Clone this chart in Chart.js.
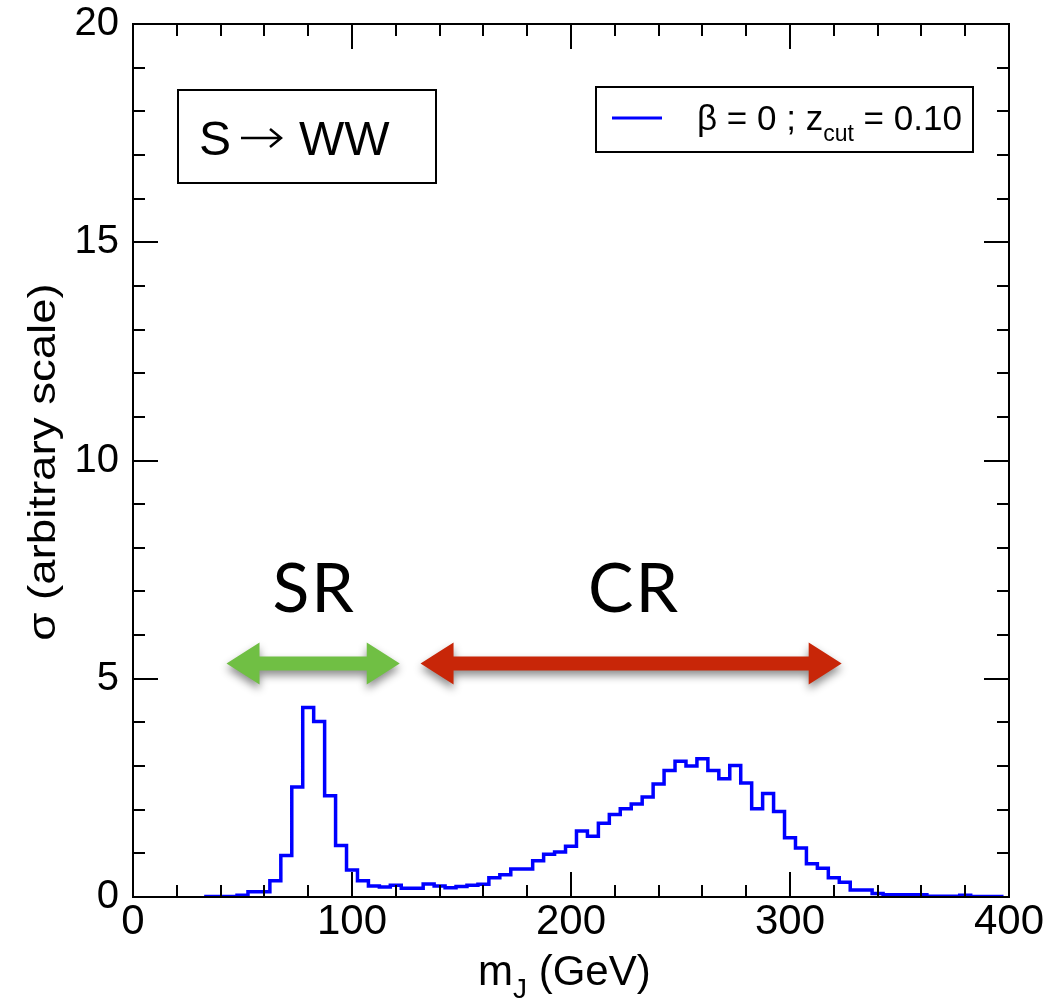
<!DOCTYPE html>
<html>
<head>
<meta charset="utf-8">
<title>S to WW - jet mass</title>
<script src="https://cdn.jsdelivr.net/npm/chart.js@4.4.1/dist/chart.umd.min.js"></script>
<style>
  html, body { margin: 0; padding: 0; background: #fff; }
  #wrap { width: 1047px; height: 1002px; }
</style>
</head>
<body>
<div id="wrap"><canvas id="mjChart" width="1047" height="1002"></canvas></div>
<script>
// histogram, 5 GeV bins (centres in GeV)
let binWidth = 5;
let binCenters = [35, 40, 45, 50, 55, 60, 65, 70, 75, 80,
  85, 90, 95, 100, 105, 110, 115, 120, 125, 130,
  135, 140, 145, 150, 155, 160, 165, 170, 175, 180,
  185, 190, 195, 200, 205, 210, 215, 220, 225, 230,
  235, 240, 245, 250, 255, 260, 265, 270, 275, 280,
  285, 290, 295, 300, 305, 310, 315, 320, 325, 330,
  335, 340, 345, 350, 355, 360, 365, 370, 375, 380,
  385, 390, 395, 400];
let sigmaValues = [0.01, 0.01, 0.01, 0.04, 0.12, 0.12, 0.37, 0.95, 2.52, 4.34,
  4.02, 2.32, 1.18, 0.62, 0.37, 0.25, 0.23, 0.27, 0.20, 0.20,
  0.30, 0.25, 0.21, 0.24, 0.27, 0.29, 0.44, 0.51, 0.64, 0.64,
  0.83, 0.98, 1.03, 1.16, 1.51, 1.39, 1.69, 1.89, 2.02, 2.13,
  2.29, 2.59, 2.90, 3.11, 3.00, 3.17, 2.90, 2.71, 3.01, 2.61,
  2.02, 2.37, 1.96, 1.36, 1.12, 0.76, 0.66, 0.44, 0.34, 0.16,
  0.16, 0.08, 0.05, 0.05, 0.05, 0.05, 0.02, 0.02, 0.02, 0.04,
  0.01, 0.01, 0.01, 0.01];

let xTicks = [0, 100, 200, 300, 400];
let yTicks = [0, 5, 10, 15, 20];

// signal / control regions (GeV)
let regionNames = ["SR", "CR"];
let regionLow = [42.7, 131.3];
let regionHigh = [121.8, 323.6];
let regionColors = ["#70bf44", "#c82608"];

let seriesLabel = "β = 0 ; z";

let points = binCenters.map((c, i) => ({ x: c - binWidth / 2, y: sigmaValues[i] }));

function drawArrow(c, x1, x2, y, color) {
  let hl = 33, hh = 21, st = 7;
  c.save();
  c.shadowColor = "rgba(0,0,0,0.45)";
  c.shadowBlur = 8;
  c.shadowOffsetY = 5;
  c.fillStyle = color;
  c.beginPath();
  c.moveTo(x1, y);
  c.lineTo(x1 + hl, y - hh);
  c.lineTo(x1 + hl, y - st);
  c.lineTo(x2 - hl, y - st);
  c.lineTo(x2 - hl, y - hh);
  c.lineTo(x2, y);
  c.lineTo(x2 - hl, y + hh);
  c.lineTo(x2 - hl, y + st);
  c.lineTo(x1 + hl, y + st);
  c.lineTo(x1 + hl, y + hh);
  c.closePath();
  c.fill();
  c.restore();
}

const framePlugin = {
  id: "frame",
  afterDraw(chart) {
    const c = chart.ctx;
    const a = chart.chartArea;
    const sx = chart.scales.x;
    const sy = chart.scales.y;
    c.save();
    c.strokeStyle = "#000";
    c.lineWidth = 2;
    c.strokeRect(a.left, a.top, a.right - a.left, a.bottom - a.top);

    c.beginPath();
    for (let v = 0; v <= 400; v += 20) {
      let px = Math.round(sx.getPixelForValue(v));
      let len = v % 100 === 0 ? 25 : 12;
      c.moveTo(px, a.bottom); c.lineTo(px, a.bottom - len);
      c.moveTo(px, a.top); c.lineTo(px, a.top + len);
    }
    for (let v = 0; v <= 20; v += 1) {
      let py = Math.round(sy.getPixelForValue(v));
      let len = v % 5 === 0 ? 25 : 12;
      c.moveTo(a.left, py); c.lineTo(a.left + len, py);
      c.moveTo(a.right, py); c.lineTo(a.right - len, py);
    }
    c.stroke();

    // S -> WW box
    c.fillStyle = "#000";
    c.strokeRect(178, 90, 258, 93);
    c.textBaseline = "alphabetic";
    c.textAlign = "left";
    c.font = "48px 'Liberation Sans'";
    c.fillText("S", 199, 155);
    c.fillText("WW", 299, 155);
    // thin arrow like the reference glyph
    c.beginPath();
    c.lineWidth = 2.5;
    c.moveTo(241, 138); c.lineTo(281, 138);
    c.moveTo(270, 129); c.lineTo(281, 138); c.lineTo(270, 147);
    c.stroke();
    c.lineWidth = 2;

    // legend
    c.strokeRect(596, 87, 377, 65);
    c.save();
    c.strokeStyle = "#0000ff";
    c.lineWidth = 3;
    c.beginPath();
    c.moveTo(612, 118); c.lineTo(662, 118);
    c.stroke();
    c.restore();
    c.font = "35px 'Liberation Sans'";
    c.fillText(seriesLabel, 697, 130);
    let w1 = c.measureText(seriesLabel).width;
    c.font = "23px 'Liberation Sans'";
    c.fillText("cut", 697 + w1, 141);
    let w2 = c.measureText("cut").width;
    c.font = "35px 'Liberation Sans'";
    c.fillText(" = 0.10", 697 + w1 + w2, 130);

    // regions
    let arrowY = sy.getPixelForValue(5.35);
    let textY = sy.getPixelForValue(6.53);
    c.font = "68px Lato";
    c.textAlign = "center";
    regionNames.forEach((name, i) => {
      let x1 = sx.getPixelForValue(regionLow[i]);
      let x2 = sx.getPixelForValue(regionHigh[i]);
      c.fillStyle = "#000";
      c.letterSpacing = "2px";
      c.fillText(name, (x1 + x2) / 2 + (i === 1 ? 3 : 1), textY);
      c.letterSpacing = "0px";
      drawArrow(c, x1, x2, arrowY, regionColors[i]);
    });

    // axis titles
    c.fillStyle = "#000";
    c.save();
    c.translate(45, 462);
    c.rotate(-Math.PI / 2);
    c.scale(1.2, 1);
    c.font = "38px 'Liberation Sans'";
    c.textAlign = "center";
    c.textBaseline = "middle";
    c.fillText("σ (arbitrary scale)", 0, 0);
    c.restore();

    c.textAlign = "left";
    c.textBaseline = "alphabetic";
    c.font = "42px 'Liberation Sans'";
    c.fillText("m", 478, 985);
    let wm = c.measureText("m").width;
    c.font = "28px 'Liberation Sans'";
    c.fillText("J", 478 + wm, 998);
    c.font = "42px 'Liberation Sans'";
    c.fillText(" (GeV)", 478 + wm + 14, 985);
    c.restore();
  }
};

const ctx = document.getElementById("mjChart");
new Chart(ctx, {
  type: "line",
  data: {
    datasets: [{
      label: seriesLabel,
      data: points,
      borderColor: "#0000ff",
      borderWidth: 3.5,
      stepped: true,
      pointRadius: 0,
      fill: false
    }]
  },
  options: {
    responsive: false,
    animation: false,
    devicePixelRatio: 1,
    layout: { padding: { top: 24, right: 38, left: 0, bottom: 0 } },
    plugins: { legend: { display: false }, tooltip: { enabled: false } },
    scales: {
      x: {
        type: "linear",
        min: 0,
        max: 400,
        grid: { display: false, drawTicks: false },
        border: { display: false },
        afterBuildTicks: (s) => { s.ticks = xTicks.map(v => ({ value: v })); },
        afterFit: (s) => {
          s.height = 105;
          s.paddingLeft = 0;
          s.paddingRight = 0;
        },
        ticks: {
          color: "#000",
          padding: 0,
          maxRotation: 0,
          autoSkip: false,
          font: { family: "'Liberation Sans'", size: 42 }
        }
      },
      y: {
        type: "linear",
        min: 0,
        max: 20,
        grid: { display: false, drawTicks: false },
        border: { display: false },
        afterBuildTicks: (s) => { s.ticks = yTicks.map(v => ({ value: v })); },
        afterFit: (s) => {
          s.width = 133;
          s.paddingTop = 0;
          s.paddingBottom = 0;
        },
        ticks: {
          color: "#000",
          padding: 14,
          autoSkip: false,
          font: { family: "'Liberation Sans'", size: 40 }
        }
      }
    }
  },
  plugins: [framePlugin]
});
</script>
</body>
</html>
